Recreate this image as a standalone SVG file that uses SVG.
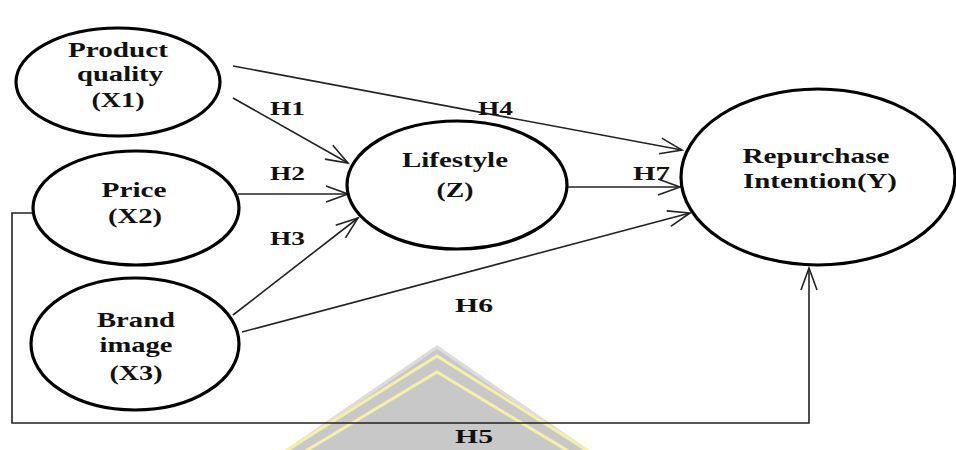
<svg xmlns="http://www.w3.org/2000/svg" width="956" height="450" viewBox="0 0 956 450">
<style>
.node{fill:#fff;stroke:#000;stroke-width:3.2}
.t{font-family:"Liberation Serif","Times New Roman",serif;font-weight:bold;font-size:21px;fill:#111;text-anchor:middle}
.h{font-family:"Liberation Serif","Times New Roman",serif;font-weight:bold;font-size:19px;fill:#111}
.c{fill:none;stroke:#222;stroke-width:1.6}
.ar{marker-end:url(#arr)}
</style>
<defs>
<marker id="arr" markerUnits="userSpaceOnUse" markerWidth="24" markerHeight="18" refX="22" refY="8" orient="auto" overflow="visible">
<path d="M0,0 L22,8 L0,16" fill="none" stroke="#222" stroke-width="1.6"/>
</marker>
</defs>
<rect width="956" height="450" fill="#fff"/>
<g id="watermark">
<polygon points="437,345 282,452 592,452" fill="#dcdcdc"/>
<polygon points="437,349 288,452 586,452" fill="#c8c8c8"/>
<polyline points="284,452 437,356 590,452" fill="none" stroke="#f4f1a4" stroke-width="3"/>
<polyline points="304,452 437,372 570,452" fill="none" stroke="#f4f1a4" stroke-width="3"/>
</g>
<g id="connectors">
<line class="c ar" x1="233" y1="66" x2="682" y2="150"/>
<line class="c ar" x1="233" y1="98" x2="348" y2="163"/>
<line class="c ar" x1="238" y1="194" x2="348" y2="194"/>
<line class="c ar" x1="233" y1="315" x2="358" y2="218"/>
<line class="c ar" x1="242" y1="332" x2="690" y2="213"/>
<line class="c ar" x1="567" y1="187" x2="680" y2="187"/>
<polyline class="c ar" points="33,213 12,213 12,423 809,423 809,268"/>
</g>
<g id="x1">
<ellipse class="node" cx="118" cy="82" rx="102" ry="54"/>
<text class="t" x="118" y="57" textLength="100" lengthAdjust="spacingAndGlyphs">Product</text>
<text class="t" x="120" y="81" textLength="86" lengthAdjust="spacingAndGlyphs">quality</text>
<text class="t" x="118" y="107" textLength="53" lengthAdjust="spacingAndGlyphs">(X1)</text>
</g>
<g id="x2">
<ellipse class="node" cx="136" cy="208" rx="103" ry="57"/>
<text class="t" x="134" y="197" textLength="65" lengthAdjust="spacingAndGlyphs">Price</text>
<text class="t" x="135" y="223" textLength="54" lengthAdjust="spacingAndGlyphs">(X2)</text>
</g>
<g id="x3">
<ellipse class="node" cx="135" cy="344" rx="104" ry="66"/>
<text class="t" x="136" y="327" textLength="78" lengthAdjust="spacingAndGlyphs">Brand</text>
<text class="t" x="136" y="352" textLength="73" lengthAdjust="spacingAndGlyphs">image</text>
<text class="t" x="136" y="380" textLength="53" lengthAdjust="spacingAndGlyphs">(X3)</text>
</g>
<g id="z">
<ellipse class="node" cx="457" cy="185" rx="110" ry="64"/>
<text class="t" x="455" y="167" textLength="106" lengthAdjust="spacingAndGlyphs">Lifestyle</text>
<text class="t" x="455" y="197" textLength="37" lengthAdjust="spacingAndGlyphs">(Z)</text>
</g>
<g id="y">
<ellipse class="node" cx="818" cy="177" rx="137" ry="88"/>
<text class="t" x="816" y="163" textLength="147" lengthAdjust="spacingAndGlyphs">Repurchase</text>
<text class="t" x="820" y="188" textLength="154" lengthAdjust="spacingAndGlyphs">Intention(Y)</text>
</g>
<g id="labels">
<text class="h" x="270" y="115" textLength="35" lengthAdjust="spacingAndGlyphs">H1</text>
<text class="h" x="270" y="180" textLength="35" lengthAdjust="spacingAndGlyphs">H2</text>
<text class="h" x="270" y="245" textLength="35" lengthAdjust="spacingAndGlyphs">H3</text>
<text class="h" x="478" y="115" textLength="35" lengthAdjust="spacingAndGlyphs">H4</text>
<text class="h" x="455" y="443" textLength="38" lengthAdjust="spacingAndGlyphs">H5</text>
<text class="h" x="455" y="312" textLength="38" lengthAdjust="spacingAndGlyphs">H6</text>
<text class="h" x="633" y="180" textLength="37" lengthAdjust="spacingAndGlyphs">H7</text>
</g>
</svg>
